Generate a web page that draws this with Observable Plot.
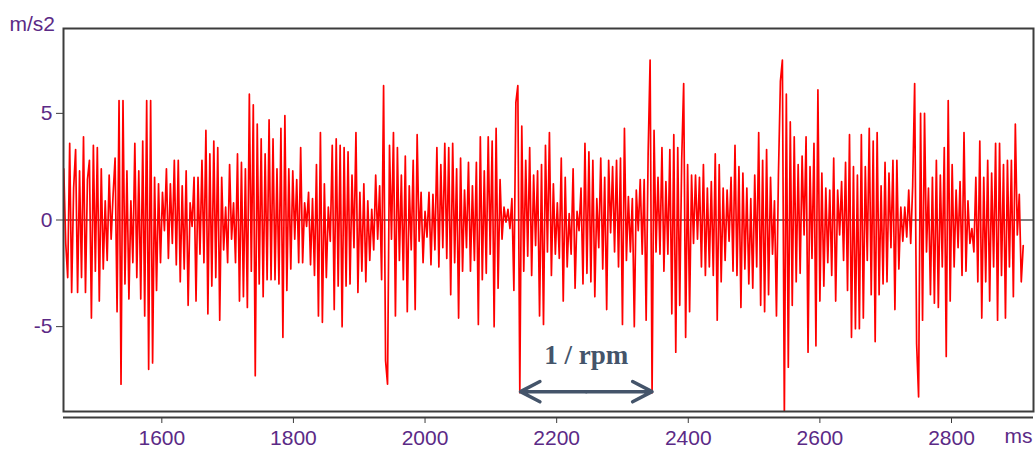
<!DOCTYPE html>
<html>
<head>
<meta charset="utf-8">
<script src="https://cdn.jsdelivr.net/npm/d3@7"></script>
<script src="https://cdn.jsdelivr.net/npm/@observablehq/plot@0.6"></script>
<style>
  body { margin: 0; background: #fff; }
  #chart svg { display: block; }
</style>
</head>
<body>
<div id="chart"></div>
<script>
// Sampled vibration signal (m/s2), one sample every 3 ms starting at 1451 ms
const startTime = 1451;
const sampleStep = 3;
const accel = [
  2.4, -1.1, -2.7, 3.6, -3.4, 1.5, 3.3, -3.4, 2.3, -2.7, 3.9, -3.4, 1.9, 2.8, -4.6, 3.5, -2.4, 3.4, -3.8, 2.4,
  -2.3, 0.9, -1.9, 2.1, -0.9, 1.2, 2.9, -4.3, 5.6, -7.7, 5.6, -3.0, 2.3, -3.7, 0.9, -2.0, 3.6, -2.7, 2.3, -3.7,
  3.7, -4.5, 5.6, -7.0, 5.6, -6.7, 2.0, -3.3, 1.7, -2.0, 1.3, -0.5, 2.4, -1.8, 1.7, -1.1, 2.8, -2.1, 2.8, -2.9,
  1.6, -2.3, 2.3, -4.0, 0.8, -0.3, 2.0, -3.8, 2.0, -1.6, 2.8, -2.0, 4.2, -4.4, 3.1, -3.1, 3.7, -2.7, 3.4, -4.7,
  2.0, -1.4, 0.6, -2.0, 2.6, -0.9, 0.8, -2.0, 3.1, -3.8, 2.7, -3.6, 2.4, -4.1, 5.9, -2.4, 5.4, -7.3, 4.5, -3.0,
  3.8, -3.6, 3.1, -2.8, 4.7, -2.8, 3.8, -2.8, 2.4, -3.0, 4.3, -5.5, 4.9, -3.3, 2.4, -2.3, 2.3, -0.9, 1.9, -2.0,
  3.4, -2.0, 0.8, -0.3, 1.3, -2.1, 1.0, -2.6, 2.6, -4.5, 4.1, -4.8, 1.7, -2.7, 0.6, -1.0, 3.5, -4.2, 3.8, -3.1,
  3.5, -5.0, 3.4, -3.1, 3.2, -3.0, 2.1, -1.3, 4.1, -3.4, 1.3, -2.4, 1.7, -2.9, 0.9, -1.9, 0.5, -1.4, 2.1, -0.9,
  1.6, -2.8, 6.3, -6.6, -7.7, 3.5, -0.9, 4.1, -4.5, 3.4, -1.9, 2.1, -2.8, 3.0, -4.3, 1.6, -1.4, 2.8, -4.2, 4.0,
  -1.0, 1.3, -2.0, 0.4, -0.8, 1.3, -2.1, 1.2, -1.4, 3.4, -2.2, 2.6, -1.3, 3.6, -1.8, 3.4, -3.5, 3.6, -2.0, 2.4,
  -4.6, 2.9, -2.4, 1.4, -1.3, 2.7, -2.4, 1.6, -1.9, 2.7, -4.9, 3.9, -2.8, 2.3, -2.5, 3.9, -1.6, 3.7, -5.0, 4.3,
  -3.2, 1.9, -0.9, 0.6, -0.1, 0.5, -0.4, 1.0, -3.3, 5.5, 6.3, -8.1, 4.4, -2.4, 2.8, -1.7, 3.4, -2.6, 2.1, -1.2,
  2.3, -4.5, 2.6, -4.9,
  3.5, -1.5, 4.1, -2.6, 1.7, -1.6, 0.8, -1.8, 2.9, -3.8, 2.0, -2.2, 0.3, -1.6, 2.4, -3.2, 0.4, -0.5, 1.5, -3.0,
  3.6, -2.5, 3.2, -2.9, 2.8, -3.6, 1.0, -1.3, 2.9, -2.3, 2.0, -4.2, 2.8, -0.6, 2.5, -1.5, 2.8, -2.2, 2.9, -4.9,
  4.3, -1.9, 1.1, -1.5, 1.0, -5.0, 1.4, -0.5, 1.9, -1.6, 1.9, -4.7, 3.1, 7.5, -8.1,
  4.2, -1.5, 2.0, -1.6, 3.4, -2.4, 1.8, -1.6, 3.3, -4.4, 4.0, -6.2, 3.4, -4.0, 2.8, 6.4, -5.5, 2.6, -4.3, 2.1,
  -1.1, 2.1, -0.9, 2.0, -2.2, 2.6, -2.6, 1.5, -2.2, 1.8, -2.6, 3.1, -4.7, 2.6, -2.9, 1.5, -1.9, 1.4, -1.0, 2.0,
  -2.4, 3.5, -2.6, 2.5, -4.1, 2.2, -2.3, 1.5, -3.0, 1.0, -3.2, 2.1, -2.2, 4.1, -4.0, 2.8, -4.3, 3.3, -3.5, 2.0,
  -1.6, 0.9, -4.5, 2.1, 6.5, 7.5, -9.2, 5.9, -6.9, 4.6,
  -4.0, 3.9, -2.9, 2.6, -2.5, 3.0, -0.7, 3.9, -6.2, 2.5, -1.8, 3.6, -5.9, 6.1, -3.8, 2.2, -3.1, 1.5, -2.0, 1.4,
  -2.6, 2.9, -3.8, 1.4, -0.7, 1.8, -1.9, 2.7, -3.3, 4.0, -5.5, 2.5, -5.1, 2.1, -5.1, 4.0, -4.6, 2.5, -1.9, 4.3,
  -3.5, 3.7, -5.7, 4.1, -3.5, 1.6, -3.0, 2.7, -2.9, 2.2, -1.3, 2.8, -4.2, 2.8, -2.3, 0.6, -1.0, 0.6, -0.8, 1.4,
  -1.1, 1.6, 6.4, -5.8, -8.3, 5.0, -4.7, 5.0, -1.5, 1.5, -3.5, 2.0, -3.9, 2.8, -4.1, 2.1, -2.2, 3.4, -6.4, 5.6,
  -3.8, 2.6, -2.2, 1.4, -1.3, 1.8, -2.6, 4.1, -2.4, 0.9, -1.1, -0.4, -1.5, 2.0, -2.9, 3.7, -4.6, 2.0, -2.9, 2.8,
  -3.8, 2.2, -2.2, 3.6, -4.7, 3.6, -2.6, 2.6, -4.6, 2.8, -2.2, 2.8, -3.6, 4.5, -0.7, 1.2, -2.9, -1.2
];

// Axes
const xTicks = [1600, 1800, 2000, 2200, 2400, 2600, 2800];
const yTicks = [-5, 0, 5];
const xDomain = [1450.6, 2924.6];
const yDomain = [-8.98, 8.98];
const yUnit = "m/s2";
const xUnit = "ms";

// Annotation: one revolution period
const periodLabel = "1 / rpm";
const periodStart = 2145;
const periodEnd = 2345;
const periodLevel = -8.05;
const labelLevel = -6.35;

const signal = accel.map((v, i) => ({t: startTime + i * sampleStep, v}));
const periodMid = (periodStart + periodEnd) / 2;
const arrowParts = [{from: periodMid, to: periodStart}, {from: periodMid, to: periodEnd}];

const purple = "#5b2a86";
const axisGray = "#3c3c3c";
const slate = "#44546A";

const chart = Plot.plot({
  width: 1035,
  height: 455,
  marginLeft: 63,
  marginRight: 2,
  marginTop: 28,
  marginBottom: 44,
  style: {fontFamily: "'Liberation Sans', Arial, sans-serif", fontSize: "21px", background: "#fff", overflow: "visible"},
  x: {domain: xDomain},
  y: {domain: yDomain},
  marks: [
    Plot.ruleY([0], {stroke: "#000", strokeWidth: 1}),
    Plot.line(signal, {x: "t", y: "v", stroke: "#ff0000", strokeWidth: 1.7, clip: true}),
    Plot.frame({stroke: axisGray, strokeWidth: 2}),
    Plot.ruleY([yDomain[0]], {dy: 6, stroke: axisGray, strokeWidth: 2}),
    Plot.axisX(xTicks, {tickSize: 6, tickPadding: 7, dy: 6, stroke: axisGray, fill: purple, tickFormat: d => String(d), label: null}),
    Plot.axisY(yTicks, {tickSize: 7, tickPadding: 4, stroke: axisGray, fill: purple, tickFormat: d => String(d), label: null}),
    Plot.text([yUnit], {frameAnchor: "top-left", dx: -54, dy: -12, textAnchor: "start", fill: purple}),
    Plot.text([xUnit], {frameAnchor: "bottom-right", dx: -1, dy: 31, textAnchor: "end", fill: purple}),
    Plot.arrow(arrowParts, {x1: "from", x2: "to", y1: () => periodLevel, y2: () => periodLevel,
      stroke: slate, strokeWidth: 3.5, headLength: 10, headAngle: 55}),
    Plot.text([periodLabel], {x: () => periodMid, y: () => labelLevel, fill: slate,
      fontFamily: "'Liberation Serif', 'Times New Roman', serif", fontWeight: "bold", fontSize: 27})
  ]
});
document.getElementById("chart").appendChild(chart);
</script>
</body>
</html>
